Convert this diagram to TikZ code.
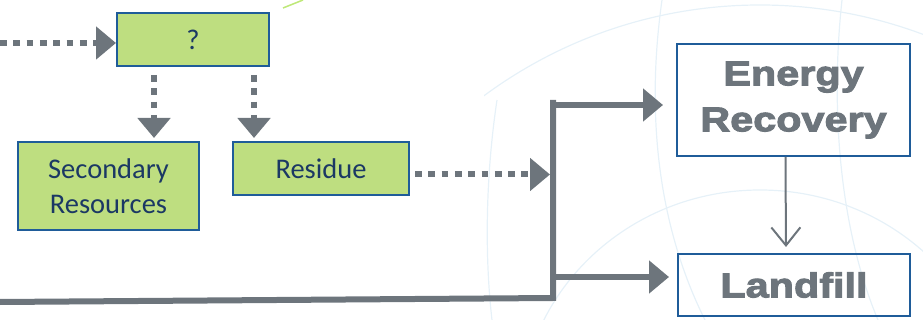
\documentclass[tikz,border=0pt]{standalone}
\usepackage{fontspec}
\setmainfont{Carlito}
\newfontfamily\widefont[FakeStretch=1.2, BoldFeatures={FakeBold=3}]{Liberation Sans}
\usetikzlibrary{arrows.meta,calc}

\definecolor{vertclair}{RGB}{190,222,128}
\definecolor{bleubord}{RGB}{31,92,153}
\definecolor{bleutexte}{RGB}{27,56,100}
\definecolor{grisfleche}{RGB}{109,117,124}
\definecolor{bleuglobe}{RGB}{230,241,248}
\definecolor{vertligne}{RGB}{190,232,120}

\tikzset{
  boite/.style={draw=bleubord, line width=2pt, fill=vertclair, text=bleutexte,
    font=\fontsize{28.5}{35}\selectfont, align=center, inner sep=0pt},
  boitegrise/.style={draw=bleubord, line width=2pt, text=grisfleche,
    font=\widefont\bfseries\fontsize{34.5}{46}\selectfont, align=center, inner sep=0pt},
  pointille/.style={draw=grisfleche, line width=6pt, dash pattern=on 6.7pt off 6.6pt,
    -{Triangle[length=20pt,width=32pt]}},
  epais/.style={draw=grisfleche, line width=6pt, -{Triangle[length=20pt,width=32pt]}},
  globe/.style={draw=bleuglobe, line width=1.2pt}
}

\begin{document}
\begin{tikzpicture}[x=1pt,y=-1pt]
        \useasboundingbox (0,0) rectangle (923,320);

        % Fond : globe
        \begin{scope}
          \clip (484,0) rectangle (923,320);
          \draw[globe] (760,470) circle (465);
          \draw[globe] (760,420) ellipse (240 and 230);
          \draw[globe] (497,100) .. controls (485,180) and (485,260) .. (492,320);
          \draw[globe] (662,0) .. controls (645,120) and (660,230) .. (705,320);
          \draw[globe] (842,0) .. controls (830,110) and (840,230) .. (878,320);
        \end{scope}
        \draw[vertligne, line width=1.5pt] (283,8) -- (303,0);

        % Boites vertes
        \node[boite, minimum width=152pt, minimum height=53pt] (q) at (193,39.5) {?};
        \node[boite, minimum width=181pt, minimum height=88pt] (sec) at (108.5,186) {Secondary\\Resources};
        \node[boite, minimum width=176pt, minimum height=53pt] (res) at (321,168.5) {Residue};

        % Boites de droite
        \node[boitegrise, minimum width=233pt, minimum height=112pt] (er) at (793.5,100) {Energy\\Recovery};
        \node[boitegrise, minimum width=232pt, minimum height=62pt] (lf) at (794,285) {Landfill};

        % Fleches pointillees
        \coordinate (gauche) at (0,43);
        \draw[pointille] (gauche) -- (gauche -| q.west);
        \draw[pointille, shorten >=3pt] ([shift={(38,8)}]q.south west) coordinate (d1) -- (d1 |- sec.north);
        \draw[pointille, shorten >=3pt] ([shift={(-16,8)}]q.south east) coordinate (d2) -- (d2 |- res.north);

        % Tronc commun
        \coordinate (depart) at (0,302);
        \coordinate (coin) at (553,298);
        \coordinate (haut) at (553,100);
        \draw[grisfleche, line width=6pt] (depart) -- (coin) -- (haut);
        \draw[pointille, shorten >=3pt] ([shift={(5,6)}]res.east) coordinate (d3) -- (d3 -| coin);

        % Branches vers la droite
        \coordinate (b1) at (553,105);
        \draw[epais, shorten >=13pt] (b1) -- (b1 -| er.west);
        \coordinate (b2) at (553,277);
        \draw[epais, shorten >=8pt] (b2) -- (b2 -| lf.west);

        \draw[grisfleche, line width=2pt, -{Straight Barb[length=18pt,width=29pt]}, shorten >=6pt]
          ([xshift=-8pt]er.south) -- ([xshift=-8pt]lf.north);
\end{tikzpicture}
\end{document}
